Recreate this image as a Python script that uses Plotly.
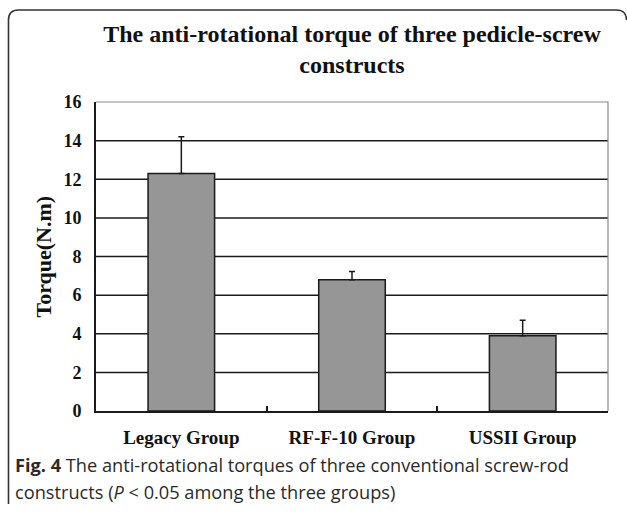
import plotly.graph_objects as go

categories = ["Legacy Group", "RF-F-10 Group", "USSII Group"]
torque_mean = [12.3, 6.8, 3.9]
torque_sd = [1.9, 0.42, 0.8]
y_ticks = [0, 2, 4, 6, 8, 10, 12, 14, 16]

W, H = 627, 514
L, R, T, B = 96, 608, 102, 411
pw, ph = R - L, B - T

def px(x):
    return (x - L) / pw

def py(y):
    return (B - y) / ph

serif = "Liberation Serif"

fig = go.Figure()
fig.add_trace(go.Bar(
    x=categories, y=torque_mean, width=0.39,
    marker=dict(color="#969696", line=dict(color="#1a1a1a", width=1.5)),
    error_y=dict(type="data", array=torque_sd, arrayminus=[0]*len(torque_sd),
                 symmetric=False, color="#1a1a1a", thickness=1.5, width=3),
    showlegend=False,
))

shapes = []
for v in y_ticks[1:-1]:
    shapes.append(dict(type="line", xref="x domain", yref="y", x0=0, x1=1, y0=v, y1=v,
                       line=dict(color="#1a1a1a", width=1.5), layer="below"))
shapes.append(dict(type="path", xref="paper", yref="paper",
                   path="M 0,1 L 1,1 L 1,0",
                   line=dict(color="#8a8a8a", width=1.2), layer="above"))
x0, y0 = px(8.5), py(504)
yt = py(10)
r_x = 10 / pw
r_y = 10 / ph
xr = px(626.5)
path = (f"M {x0},{y0} L {x0},{yt - r_y} Q {x0},{yt} {x0 + r_x},{yt} "
        f"L {xr - r_x},{yt} Q {xr},{yt} {xr},{yt - r_y}")
shapes.append(dict(type="path", xref="paper", yref="paper", path=path,
                   line=dict(color="#333333", width=1.6), layer="above"))

annotations = [
    dict(xref="paper", yref="paper", x=px(13), y=py(465), xanchor="left", yanchor="middle",
         showarrow=False, align="left",
         text="<b>Fig. 4</b> The anti-rotational torques of three conventional screw-rod",
         font=dict(family="Open Sans", size=18.2, color="#2a2a2a")),
    dict(xref="paper", yref="paper", x=px(13), y=py(492), xanchor="left", yanchor="middle",
         showarrow=False, align="left",
         text="constructs (<i>P</i> &lt; 0.05 among the three groups)",
         font=dict(family="Open Sans", size=18.2, color="#2a2a2a")),
    dict(xref="paper", yref="paper", x=px(43), y=0.5, xanchor="center", yanchor="middle",
         showarrow=False, textangle=-90, text="Torque(N.m)",
         font=dict(family=serif, size=22, color="#111111", weight="bold")),
]

fig.update_layout(
    width=W, height=H,
    margin=dict(l=L, r=W - R, t=T, b=H - B, pad=0),
    paper_bgcolor="white", plot_bgcolor="white",
    title=dict(text="The anti-rotational torque of three pedicle-screw<br>constructs",
               x=0.5, xref="paper", xanchor="center",
               y=1 - 42 / H, yref="container", yanchor="middle",
               font=dict(family=serif, size=24, color="#111111", weight="bold")),
    shapes=shapes,
    annotations=annotations,
    bargap=0.61,
)
fig.update_xaxes(
    showline=True, linecolor="#1a1a1a", linewidth=1.8,
    ticks="inside", tickson="boundaries", ticklen=5, tickwidth=1.5, tickcolor="#1a1a1a",
    tickfont=dict(family=serif, size=19, color="#111111", weight="bold"),
    ticklabelstandoff=8,
    showgrid=False, zeroline=False,
)
fig.update_yaxes(
    range=[0, 16], tickvals=y_ticks, showgrid=False, zeroline=False,
    showline=True, linecolor="#1a1a1a", linewidth=1.8,
    ticks="", ticklabelstandoff=9,
    tickfont=dict(family=serif, size=18, color="#111111", weight="bold"),
)

fig.write_html("out.html", config={"displayModeBar": False},
               post_script="document.body.style.margin='0';document.body.style.overflow='hidden';")
